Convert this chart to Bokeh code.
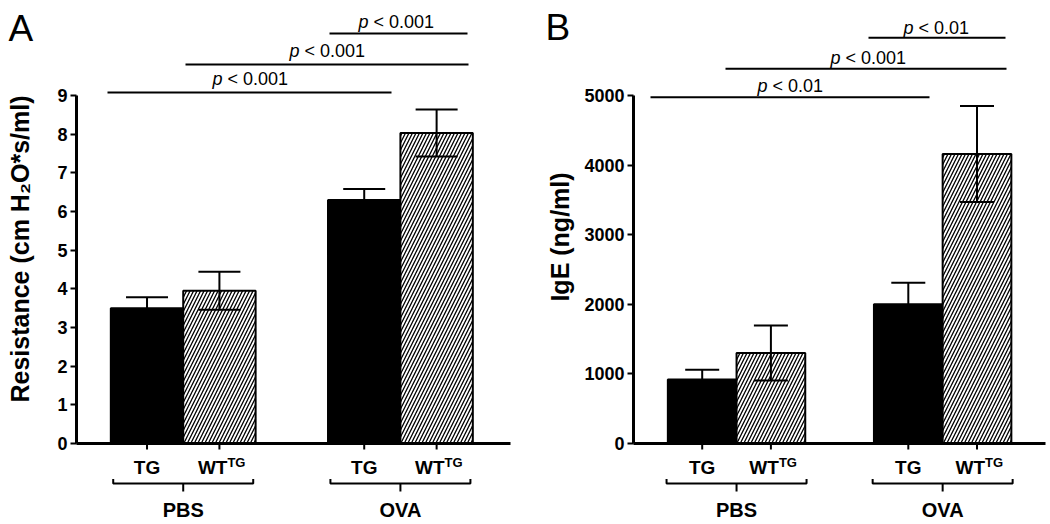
import math
from bokeh.plotting import figure
from bokeh.layouts import row
from bokeh.models import Range1d, FixedTicker
from bokeh.core.properties import value
from bokeh.embed import file_html
from bokeh.resources import INLINE

# ---------------- data ----------------
groups = ["PBS", "OVA"]
strains = ["TG", "WT"]          # WT is shown as WT^TG
bar_x = [1, 2, 4, 5]            # PBS-TG, PBS-WT, OVA-TG, OVA-WT
group_x = [1.5, 4.5]

# Panel A: airway resistance (cm H2O*s/ml)
res_mean = [3.50, 3.95, 6.30, 8.03]
res_sem = [0.28, 0.49, 0.28, 0.61]
res_ticks = [0, 1, 2, 3, 4, 5, 6, 7, 8, 9]
res_p = ["< 0.001", "< 0.001", "< 0.001"]

# Panel B: serum IgE (ng/ml)
ige_mean = [920, 1300, 2000, 4160]
ige_sem = [140, 395, 310, 690]
ige_ticks = [0, 1000, 2000, 3000, 4000, 5000]
ige_p = ["< 0.01", "< 0.001", "< 0.01"]

W, H = 525, 524
FONT = "Liberation Sans"


def make_panel(letter, means, sems, ticks, ylabel, pvals, sig_px,
               x_ppu, axis_px, axis_x, xaxis_end_px, tick_size, cap_px,
               letter_px, ylabel_px):
    ymax = ticks[-1]
    base = 443.0                      # pixel row of y = 0
    y_ppu = 348.0 / ymax

    def sx(px):                       # figure pixel column -> data x
        return axis_x + (px - axis_px) / x_ppu

    def sy(px):                       # figure pixel row -> data y
        return (base - px) / y_ppu

    def dx(px):
        return px / x_ppu

    def dy(px):
        return px / y_ppu

    def bl(px, fs):                   # alphabetic baseline correction
        return sy(px - 0.21 * fs)

    p = figure(width=W, height=H, x_range=Range1d(sx(0), sx(W)),
               y_range=Range1d(sy(H), sy(0)), x_axis_location=None,
               toolbar_location=None, output_backend="svg",
               min_border_left=0, min_border_right=0,
               min_border_top=0, min_border_bottom=0)
    p.outline_line_color = None
    p.xgrid.visible = False
    p.ygrid.visible = False
    p.background_fill_color = "white"

    ax = p.yaxis[0]
    ax.fixed_location = axis_x
    ax.ticker = FixedTicker(ticks=ticks)
    ax.bounds = (0, ymax)
    ax.axis_line_width = 3
    ax.axis_line_color = "black"
    ax.major_tick_line_width = 2
    ax.major_tick_line_color = "black"
    ax.major_tick_out = 6
    ax.major_tick_in = 0
    ax.minor_tick_line_color = None
    ax.major_label_text_font = FONT
    ax.major_label_text_font_style = "bold"
    ax.major_label_text_font_size = tick_size
    ax.major_label_text_color = "black"
    ax.major_label_standoff = 3

    # axis title
    p.text(x=[sx(ylabel_px[0])], y=[sy(ylabel_px[1])], text=[ylabel],
           angle=math.pi / 2, text_align="center", text_baseline="middle",
           text_font=value(FONT), text_font_style="bold", text_font_size="25px",
           text_color="black")

    # bars
    tg_i = [0, 2]
    wt_i = [1, 3]
    p.vbar(x=[bar_x[i] for i in tg_i], top=[means[i] for i in tg_i], width=1.0,
           bottom=0, fill_color="black", line_color="black", line_width=2)
    p.vbar(x=[bar_x[i] for i in wt_i], top=[means[i] for i in wt_i], width=1.0,
           bottom=0, fill_color="white", line_color="black", line_width=2,
           hatch_pattern="/", hatch_color="black", hatch_scale=7,
           hatch_weight=1.3)

    # error bars
    lo = [m - s for m, s in zip(means, sems)]
    hi = [m + s for m, s in zip(means, sems)]
    p.segment(x0=bar_x, y0=lo, x1=bar_x, y1=hi, line_color="black", line_width=2)
    cap = dx(cap_px)
    p.segment(x0=[x - cap for x in bar_x], y0=hi, x1=[x + cap for x in bar_x],
              y1=hi, line_color="black", line_width=2)
    p.segment(x0=[x - cap for x in bar_x], y0=lo, x1=[x + cap for x in bar_x],
              y1=lo, line_color="black", line_width=2)

    # x axis line and ticks
    p.segment(x0=[sx(axis_px)], y0=[0], x1=[sx(xaxis_end_px)], y1=[0],
              line_color="black", line_width=3)
    p.segment(x0=bar_x, y0=[0] * 4, x1=bar_x, y1=[-dy(6)] * 4,
              line_color="black", line_width=2)

    # category labels
    p.text(x=[bar_x[i] for i in tg_i], y=[bl(471, 19)] * 2, text=["TG", "TG"],
           text_align="center", text_baseline="alphabetic", text_color="black",
           text_font=value(FONT), text_font_style="bold", text_font_size="19px")
    wt_edge = [bar_x[i] + dx(8) for i in wt_i]
    p.text(x=wt_edge, y=[bl(471, 19)] * 2, text=["WT", "WT"],
           text_align="right", text_baseline="alphabetic", text_color="black",
           text_font=value(FONT), text_font_style="bold", text_font_size="19px")
    p.text(x=wt_edge, y=[bl(465, 13)] * 2, text=["TG", "TG"],
           text_align="left", text_baseline="alphabetic", text_color="black",
           text_font=value(FONT), text_font_style="bold", text_font_size="13px")

    # group brackets
    for gx in group_x:
        l, r = gx - dx(70), gx + dx(70)
        p.line(x=[l, l, r, r], y=[sy(478.5), sy(483), sy(483), sy(478.5)],
               line_color="black", line_width=2)
        p.segment(x0=[gx], y0=[sy(483)], x1=[gx], y1=[sy(491)],
                  line_color="black", line_width=2)
    p.text(x=group_x, y=[bl(514, 20)] * 2, text=groups, text_align="center",
           text_baseline="alphabetic", text_font=value(FONT), text_color="black",
           text_font_style="bold", text_font_size="20px")

    # significance lines
    for (x0, x1, lvl, tx, tb), pv in zip(sig_px, pvals):
        p.segment(x0=[sx(x0)], y0=[sy(lvl)], x1=[sx(x1)], y1=[sy(lvl)],
                  line_color="black", line_width=2)
        p.text(x=[sx(tx)], y=[bl(tb, 18)], text=["p"], text_align="left",
               text_baseline="alphabetic", text_font=value(FONT),
               text_color="black", text_font_style="italic",
               text_font_size="18px")
        p.text(x=[sx(tx + 15)], y=[bl(tb, 18)], text=[pv], text_align="left",
               text_baseline="alphabetic", text_font=value(FONT),
               text_color="black", text_font_size="18px")

    # panel letter
    p.text(x=[sx(letter_px[0])], y=[bl(letter_px[1], 37)], text=[letter],
           text_align="left", text_baseline="alphabetic", text_font=value(FONT),
           text_color="black", text_font_size="37px")
    return p


# significance layout in figure pixels: (x0, x1, line row, text left, text baseline)
sig_a = [(107, 391, 92, 212, 82), (185, 468, 64, 289, 54),
         (329, 467, 33, 358, 25)]
sig_b = [(125, 404, 96.7, 232, 89), (200, 481, 68.3, 305, 61),
         (343, 480, 37.3, 378, 31)]

pA = make_panel("A", res_mean, res_sem, res_ticks,
                "Resistance (cm H\u2082O*s/ml)", res_p, sig_a,
                x_ppu=72.4, axis_px=76, axis_x=0.026, xaxis_end_px=510,
                tick_size="18px", cap_px=21, letter_px=(8, 36),
                ylabel_px=(19, 248.5))
pB = make_panel("B", ige_mean, ige_sem, ige_ticks, "IgE (ng/ml)", ige_p, sig_b,
                x_ppu=68.7, axis_px=108, axis_x=0.0, xaxis_end_px=520,
                tick_size="18px", cap_px=17, letter_px=(20, 35),
                ylabel_px=(34, 236.5))

layout = row(pA, pB)
open("out.html", "w").write(file_html(layout, INLINE))
